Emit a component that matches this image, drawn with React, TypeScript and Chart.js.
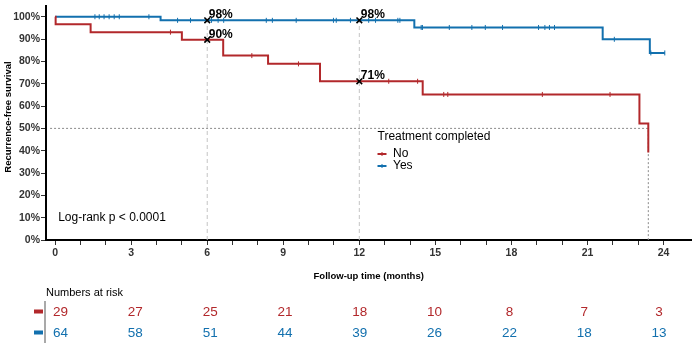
import React, { useEffect, useRef } from "react";
import { Chart, registerables } from "chart.js";
Chart.register(...registerables);

const RED = "#B2282B";
const BLUE = "#1270AE";
const FONT = "'Liberation Sans', Arial, Helvetica, sans-serif";

// Kaplan-Meier step points (months, % survival)
const noTimes = [0, 0.02, 1.4, 5.0, 6.63, 8.4, 10.45, 14.5, 23.05, 23.4];
const noSurv = [100, 96.6, 93.1, 89.7, 82.6, 78.9, 71.1, 65.2, 52.2, 39.2];
const yesTimes = [0, 4.16, 14.17, 21.6, 23.46, 24.05];
const yesSurv = [100, 98.4, 95.2, 89.9, 83.8, 83.8];

// censoring marks
const noCensorTimes = [4.55, 7.76, 9.6, 13.16, 14.3, 15.33, 15.49, 19.22, 21.89];
const noCensorSurv = [93.1, 82.6, 78.9, 71.1, 71.1, 65.2, 65.2, 65.2, 65.2];
const yesCensorTimes = [
  1.57, 1.74, 1.93, 2.13, 2.33, 2.53, 3.7,
  4.83, 5.34, 6.17, 6.43, 6.65, 8.33, 8.57, 9.51, 10.98, 11.09, 11.65, 12.37, 12.64, 13.52, 13.6,
  14.44, 14.49, 15.55, 16.44, 16.97, 17.65, 19.07, 19.32, 19.5, 19.7,
  22.06, 23.5, 24.05,
];
const yesCensorSurv = [
  100, 100, 100, 100, 100, 100, 100,
  98.4, 98.4, 98.4, 98.4, 98.4, 98.4, 98.4, 98.4, 98.4, 98.4, 98.4, 98.4, 98.4, 98.4, 98.4,
  95.2, 95.2, 95.2, 95.2, 95.2, 95.2, 95.2, 95.2, 95.2, 95.2,
  89.9, 83.8, 83.8,
];

// landmark markers
const markTimes = [6, 6, 12, 12];
const markSurv = [98.4, 89.7, 98.4, 71.1];
const markLabels = ["98%", "90%", "98%", "71%"];
const guideTimes = [6, 12];
const guideTop = [98.4, 98.4];

const medianTime = 23.4;
const medianLevel = 50;

const xTickValues = [0, 1, 2, 3, 4, 5, 6, 7, 8, 9, 10, 11, 12, 13, 14, 15, 16, 17, 18, 19, 20, 21, 22, 23, 24];
const yTickValues = [0, 10, 20, 30, 40, 50, 60, 70, 80, 90, 100];

const groupNames = ["No", "Yes"];
const riskTimes = [0, 3, 6, 9, 12, 15, 18, 21, 24];
const riskNo = [29, 27, 25, 21, 18, 10, 8, 7, 3];
const riskYes = [64, 58, 51, 44, 39, 26, 22, 18, 13];

const pts = (xs: number[], ys: number[]) => xs.map((x, i) => ({ x, y: ys[i] }));

export default function App() {
  const mainRef = useRef<HTMLCanvasElement>(null);
  const tableRef = useRef<HTMLCanvasElement>(null);

  useEffect(() => {
    const overlay = {
      id: "overlay",
      afterDatasetsDraw(chart: any) {
        const { ctx, chartArea, scales } = chart;
        const xs = scales.x;
        const ys = scales.y;
        ctx.save();
        // landmark labels
        ctx.fillStyle = "#000";
        ctx.font = `bold 12px ${FONT}`;
        ctx.textAlign = "left";
        ctx.textBaseline = "alphabetic";
        markTimes.forEach((t, i) => {
          const px = xs.getPixelForValue(t);
          const py = ys.getPixelForValue(markSurv[i]);
          ctx.fillText(markLabels[i], px + 1.5, py - 2);
        });
        // log-rank
        ctx.font = `12px ${FONT}`;
        ctx.textBaseline = "middle";
        ctx.fillStyle = "#000";
        ctx.fillText("Log-rank p < 0.0001", xs.getPixelForValue(0) + 3, ys.getPixelForValue(10));
        // legend
        const lx = 377.5;
        ctx.fillText("Treatment completed", lx, 137);
        const cols = [RED, BLUE];
        groupNames.forEach((g, i) => {
          const yy = 154 + i * 12;
          ctx.strokeStyle = cols[i];
          ctx.lineWidth = 2;
          ctx.beginPath();
          ctx.moveTo(lx, yy);
          ctx.lineTo(lx + 9, yy);
          ctx.stroke();
          ctx.lineWidth = 1;
          ctx.beginPath();
          ctx.moveTo(lx + 4.5, yy - 2);
          ctx.lineTo(lx + 4.5, yy + 2);
          ctx.stroke();
          ctx.fillStyle = "#000";
          ctx.font = `12px ${FONT}`;
          ctx.fillText(g, lx + 15.5, yy);
        });
        // axis titles
        ctx.font = `bold 9.5px ${FONT}`;
        ctx.textAlign = "center";
        ctx.fillStyle = "#000";
        ctx.fillText("Follow-up time (months)", (chartArea.left + chartArea.right) / 2, 276);
        ctx.translate(8, 117);
        ctx.rotate(-Math.PI / 2);
        ctx.fillText("Recurrence-free survival", 0, 0);
        ctx.restore();
      },
    };

    const main = new Chart(mainRef.current as HTMLCanvasElement, {
      type: "line",
      data: {
        datasets: [
          {
            data: pts(markTimes, markSurv),
            showLine: false,
            pointStyle: "crossRot",
            pointRadius: 4,
            pointBorderWidth: 1.6,
            pointBorderColor: "#000",
            pointBackgroundColor: "#000",
            order: 0,
          } as any,
          {
            data: pts(noTimes, noSurv),
            stepped: "before",
            borderColor: RED,
            borderWidth: 2,
            pointRadius: 0,
            fill: false,
            order: 1,
          },
          {
            data: pts(yesTimes, yesSurv),
            stepped: "before",
            borderColor: BLUE,
            borderWidth: 2,
            pointRadius: 0,
            fill: false,
            order: 1,
          },
          {
            data: pts(noCensorTimes, noCensorSurv),
            showLine: false,
            pointStyle: "line",
            rotation: 90,
            pointRadius: 2.5,
            pointBorderWidth: 1,
            pointBorderColor: RED,
            order: 1,
          },
          {
            data: pts(yesCensorTimes, yesCensorSurv),
            showLine: false,
            pointStyle: "line",
            rotation: 90,
            pointRadius: 2.5,
            pointBorderWidth: 1,
            pointBorderColor: BLUE,
            order: 1,
          },
          ...guideTimes.map((t, i) => ({
            data: [
              { x: t, y: 0 },
              { x: t, y: guideTop[i] },
            ],
            borderColor: "#C4C4C4",
            borderWidth: 1,
            borderDash: [4, 3],
            pointRadius: 0,
            fill: false,
            order: 2,
          })),
          {
            data: [
              { x: -0.2, y: medianLevel },
              { x: medianTime, y: medianLevel },
              { x: medianTime, y: 0 },
            ],
            borderColor: "#8A8A8A",
            borderWidth: 1,
            borderDash: [2, 2],
            pointRadius: 0,
            fill: false,
            order: 2,
          },
        ],
      },
      options: {
        animation: false,
        responsive: false,
        devicePixelRatio: 1,
        layout: { padding: { top: 3, right: 2, left: 0, bottom: 96 } },
        plugins: { legend: { display: false }, tooltip: { enabled: false } },
        scales: {
          x: {
            type: "linear",
            min: -0.36,
            max: 25.1,
            afterFit: (s: any) => {
              s.height = 20;
              s.paddingLeft = 0;
              s.paddingRight = 0;
            },
            afterBuildTicks: (s: any) => {
              s.ticks = xTickValues.map((v) => ({ value: v }));
            },
            ticks: {
              autoSkip: false,
              maxRotation: 0,
              padding: 2,
              color: "#333",
              font: { family: FONT, size: 10.5, weight: "bold" },
              callback: (v: any) => (Number(v) % 3 === 0 ? String(v) : ""),
            },
            grid: { drawOnChartArea: false, drawTicks: true, tickLength: 5, color: "#333", lineWidth: 1 },
            border: { display: true, color: "#000", width: 2 },
          },
          y: {
            type: "linear",
            min: 0,
            max: 105,
            afterFit: (s: any) => {
              s.width = 46;
              s.paddingTop = 0;
              s.paddingBottom = 0;
            },
            afterBuildTicks: (s: any) => {
              s.ticks = yTickValues.map((v) => ({ value: v }));
            },
            ticks: {
              padding: 1,
              color: "#333",
              font: { family: FONT, size: 10.5, weight: "bold" },
              callback: (v: any) => `${v}%`,
            },
            grid: { drawOnChartArea: false, drawTicks: true, tickLength: 5, color: "#333", lineWidth: 1 },
            border: { display: true, color: "#000", width: 2 },
          },
        },
      } as any,
      plugins: [overlay],
    });

    const tablePlugin = {
      id: "riskTable",
      afterDraw(chart: any) {
        const { ctx, chartArea, scales } = chart;
        const xs = scales.x;
        const ys = scales.y;
        ctx.save();
        ctx.fillStyle = "#000";
        ctx.font = `11px ${FONT}`;
        ctx.textAlign = "left";
        ctx.textBaseline = "middle";
        ctx.fillText("Numbers at risk", chartArea.left + 1, chartArea.top - 8.5);
        ctx.strokeStyle = "#8C8C8C";
        ctx.lineWidth = 1.5;
        ctx.beginPath();
        ctx.moveTo(chartArea.left, chartArea.top);
        ctx.lineTo(chartArea.left, chartArea.bottom);
        ctx.stroke();
        const rows = [
          { vals: riskNo, col: RED, y: 1.5 },
          { vals: riskYes, col: BLUE, y: 0.5 },
        ];
        ctx.font = `13.5px ${FONT}`;
        ctx.textAlign = "center";
        rows.forEach((r) => {
          const py = ys.getPixelForValue(r.y);
          ctx.fillStyle = r.col;
          ctx.fillRect(chartArea.left - 11, py - 2, 9, 4);
          r.vals.forEach((v, i) => {
            ctx.fillText(String(v), xs.getPixelForValue(riskTimes[i]), py + 0.5);
          });
        });
        ctx.restore();
      },
    };

    const table = new Chart(tableRef.current as HTMLCanvasElement, {
      type: "scatter",
      data: { datasets: [{ data: [] }] },
      options: {
        animation: false,
        responsive: false,
        devicePixelRatio: 1,
        layout: { padding: { top: 301, right: 4, left: 45, bottom: 13 } },
        plugins: { legend: { display: false }, tooltip: { enabled: false } },
        scales: {
          x: { type: "linear", display: false, min: -0.6215, max: 25.36 },
          y: { type: "linear", display: false, min: 0, max: 2 },
        },
      } as any,
      plugins: [tablePlugin],
    });

    return () => {
      main.destroy();
      table.destroy();
    };
  }, []);

  return (
    <div style={{ position: "fixed", left: 0, top: 0, width: 697, height: 356, background: "#fff" }}>
      <canvas ref={mainRef} width={697} height={356} style={{ position: "absolute", left: 0, top: 0 }} />
      <canvas ref={tableRef} width={697} height={356} style={{ position: "absolute", left: 0, top: 0 }} />
    </div>
  );
}
